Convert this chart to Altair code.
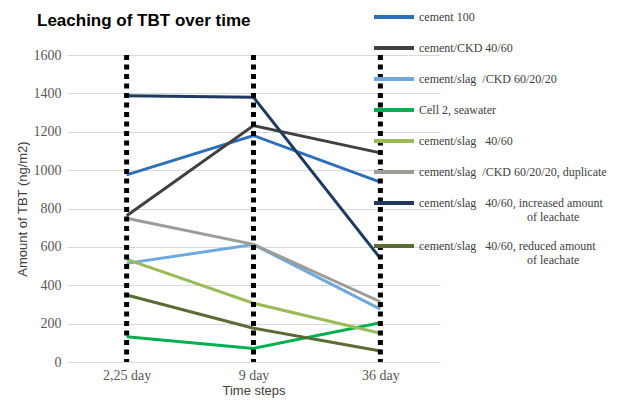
import altair as alt
import pandas as pd

NB = "\u00a0"
IND = "\u200b" + "\u2002" * 18
days = ["2,25 day", "9 day", "36 day"]
series = [
    "cement 100",
    "cement/CKD 40/60",
    "cement/slag" + NB + " /CKD 60/20/20",
    "Cell 2, seawater",
    "cement/slag" + NB * 2 + " 40/60",
    "cement/slag" + NB + " /CKD 60/20/20, duplicate",
    "cement/slag" + NB * 2 + " 40/60, increased amount|" + IND + "of leachate",
    "cement/slag" + NB * 2 + " 40/60, reduced amount|" + IND + "of leachate",
]
values = [
    [975, 1180, 937],
    [762, 1232, 1090],
    [514, 612, 276],
    [132, 71, 205],
    [535, 306, 150],
    [749, 613, 314],
    [1388, 1380, 540],
    [349, 176, 57],
]
colors = ["#2e70b8", "#404040", "#6fa8dc", "#00b050", "#9bbb59", "#9a9e96", "#1f3a5f", "#5b6b34"]
y_ticks = [0, 200, 400, 600, 800, 1000, 1200, 1400, 1600]

SERIF = "Liberation Serif, Times New Roman, serif"
SANS = "Liberation Sans, Arial, sans-serif"

rows = []
for s, vals in zip(series, values):
    for d, v in zip(days, vals):
        rows.append({"series": s, "day": d, "value": v})
df = pd.DataFrame(rows)
df_days = pd.DataFrame({"day": days})

x_enc = alt.X(
    "day:N",
    sort=days,
    scale=alt.Scale(type="point", padding=0.47),
    axis=alt.Axis(
        title="Time steps",
        grid=False,
        domain=False,
        ticks=False,
        labelAngle=0,
        labelFont=SERIF,
        labelFontSize=14,
        labelColor="#595959",
        labelPadding=6,
        titleFont=SANS,
        titleFontSize=13,
        titleFontWeight="normal",
        titleColor="#404040",
        titlePadding=2,
    ),
)

lines = alt.Chart(df).mark_line(strokeWidth=3).encode(
    x=x_enc,
    y=alt.Y(
        "value:Q",
        scale=alt.Scale(domain=[0, 1600], nice=False),
        axis=alt.Axis(
            title="Amount of TBT (ng/m2)",
            values=y_ticks,
            format="d",
            grid=True,
            gridColor="#d9d9d9",
            gridWidth=1,
            domain=False,
            ticks=False,
            labelFont=SERIF,
            labelFontSize=14,
            labelColor="#595959",
            labelPadding=6,
            titleFont=SANS,
            titleFontSize=13,
            titleFontWeight="normal",
            titleColor="#404040",
            titlePadding=4,
        ),
    ),
    color=alt.Color(
        "series:N",
        scale=alt.Scale(domain=series, range=colors),
        legend=alt.Legend(
            title=None,
            orient="none",
            legendX=305,
            legendY=-60,
            symbolType="stroke",
            symbolSize=1600,
            symbolStrokeWidth=4,
            labelExpr="split(datum.label, '|')",
            labelFont=SERIF,
            labelFontSize=12,
            labelColor="#404040",
            labelLimit=300,
            labelOffset=3,
            rowPadding=1,
        ),
    ),
)

rules = alt.Chart(df_days).mark_rule(
    color="black", strokeWidth=5, strokeDash=[5, 4.5]
).encode(x=alt.X("day:N", sort=days, scale=alt.Scale(type="point", padding=0.47)))

chart = (
    alt.layer(lines, rules)
    .properties(
        width=373,
        height=307,
        title=alt.TitleParams(
            "Leaching of TBT over time",
            anchor="start",
            frame="group",
            font=SANS,
            fontSize=17,
            fontWeight="bold",
            color="#000000",
            dx=-30,
            dy=35,
            offset=0,
        ),
        autosize=alt.AutoSizeParams(type="none"),
        padding={"left": 59, "top": 47, "right": 184, "bottom": 40},
    )
    .configure_view(stroke=None)
)

chart.save("out.html", embed_options={"renderer": "svg", "actions": False})
